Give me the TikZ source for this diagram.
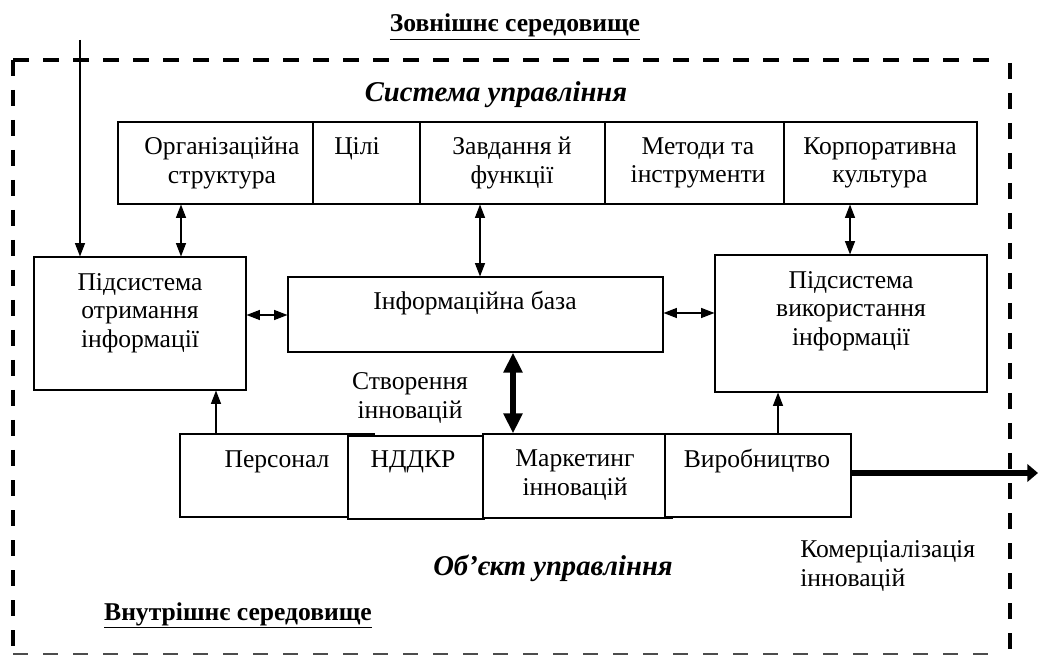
\documentclass[tikz,border=0pt]{standalone}
\usepackage{fontspec}
\setmainfont{Liberation Serif}
\usetikzlibrary{arrows.meta,fit}
\tikzset{
  every node/.style={font=\fontsize{19.2}{21.5}\selectfont, inner sep=0pt},
  box/.style={draw, line width=0.8pt, inner sep=0pt, fill=white},
  txt/.style={align=center},
  bigital/.style={font=\fontsize{21.5}{24}\selectfont\bfseries\itshape},
  thinarrow/.style={line width=0.9pt, -{Triangle[length=10pt,width=7.5pt]}},
  dblarrow/.style={line width=0.9pt, {Triangle[length=10pt,width=7.5pt]}-{Triangle[length=10pt,width=7.5pt]}},
  thickdbl/.style={line width=5pt, {Triangle[length=15pt,width=13.5pt]}-{Triangle[length=15pt,width=13.5pt]}},
  thickarrow/.style={line width=5pt, -{Triangle[length=8pt,width=13pt]}},
  framebold/.style={line width=3pt, dash pattern=on 12pt off 10.5pt},
  framethin/.style={line width=1.3pt, black!70, dash pattern=on 11.5pt off 11pt},
}
\begin{document}
\begin{tikzpicture}[x=0.75pt,y=-0.75pt]
\useasboundingbox (0,0) rectangle (1038,655);

% frame
\draw[framebold] (13,60) -- (999,60);
\draw[framebold] (13,60) -- (13,655);
\draw[framebold] (1010,63) -- (1010,655);
\draw[framethin] (13,654) -- (1002,654);

% titles
\node[anchor=base] (outer) at (515,32) {\underline{\textbf{Зовнішнє середовище}}};
\node[anchor=base, bigital] (sysu) at (496,102) {Система управління};
\node[anchor=base, bigital] (obj) at (553,575) {Об’єкт управління};
\node[anchor=base] (inner) at (238,620) {\underline{\textbf{Внутрішнє середовище}}};

% top row
\node[box, fit={(118,122) (313,204)}] (org) {};
\node[box, fit={(313,122) (420,204)}] (goals) {};
\node[box, fit={(420,122) (605,204)}] (tasks) {};
\node[box, fit={(605,122) (784,204)}] (methods) {};
\node[box, fit={(784,122) (977,204)}] (culture) {};
\node[txt] (t-org) at (222,163) {Організаційна\\структура};
\node[anchor=base] (t-goals) at (357,155) {Цілі};
\node[txt] (t-tasks) at (512,163) {Завдання й\\функції};
\node[txt] (t-methods) at (698,163) {Методи та\\інструменти};
\node[txt] (t-culture) at (880,163) {Корпоративна\\культура};

% middle row
\node[box, fit={(34,257) (246,390)}] (getbox) {};
\node[txt] (t-get) at (140,313) {Підсистема\\отримання\\інформації};
\node[box, fit={(288,277) (663,352)}] (infobase) {};
\node[anchor=base] (t-info) at (475,310) {Інформаційна база};
\node[box, fit={(715,255) (987,392)}] (usebox) {};
\node[txt] (t-use) at (851,311) {Підсистема\\використання\\інформації};

\node[txt] (t-create) at (410,398) {Створення\\інновацій};

% bottom row
\node[box, fit={(180,434) (374,517)}] (pers) {};
\node[box, fit={(348,436) (484,519)}] (nddkr) {};
\node[box, fit={(483,434) (672,518)}] (mark) {};
\node[box, fit={(665,434) (851,517)}] (prod) {};
\node[anchor=base] (t-pers) at (277,467) {Персонал};
\node[anchor=base] (t-nddkr) at (413,467) {НДДКР};
\node[txt] (t-mark) at (575,475) {Маркетинг\\інновацій};
\node[anchor=base] (t-prod) at (757,467) {Виробництво};

\node[align=left, anchor=west] (t-comm) at (800,566) {Комерціалізація\\інновацій};

% helper coordinates
\coordinate (cin) at (80,40);
\coordinate (c1) at (181,0);
\coordinate (c2) at (480,0);
\coordinate (c3) at (850,0);
\coordinate (c4) at (216,0);
\coordinate (c5) at (778,0);
\coordinate (c6) at (513,0);
\coordinate (r1) at (0,315);
\coordinate (r2) at (0,313);
\coordinate (cout) at (1038,473);

% connectors
\draw[thinarrow] (cin) -- (cin |- getbox.north);
\draw[dblarrow] (c1 |- org.south) -- (c1 |- getbox.north);
\draw[dblarrow] (c2 |- tasks.south) -- (c2 |- infobase.north);
\draw[dblarrow] (c3 |- culture.south) -- (c3 |- usebox.north);
\draw[dblarrow] (getbox.east |- r1) -- (infobase.west |- r1);
\draw[dblarrow] (infobase.east |- r2) -- (usebox.west |- r2);
\draw[thickdbl] (c6 |- infobase.south) -- (c6 |- mark.north);
\draw[thinarrow] (c4 |- pers.north) -- (c4 |- getbox.south);
\draw[thinarrow] (c5 |- prod.north) -- (c5 |- usebox.south);
\draw[thickarrow] (prod.east |- cout) -- (cout);
\end{tikzpicture}
\end{document}
